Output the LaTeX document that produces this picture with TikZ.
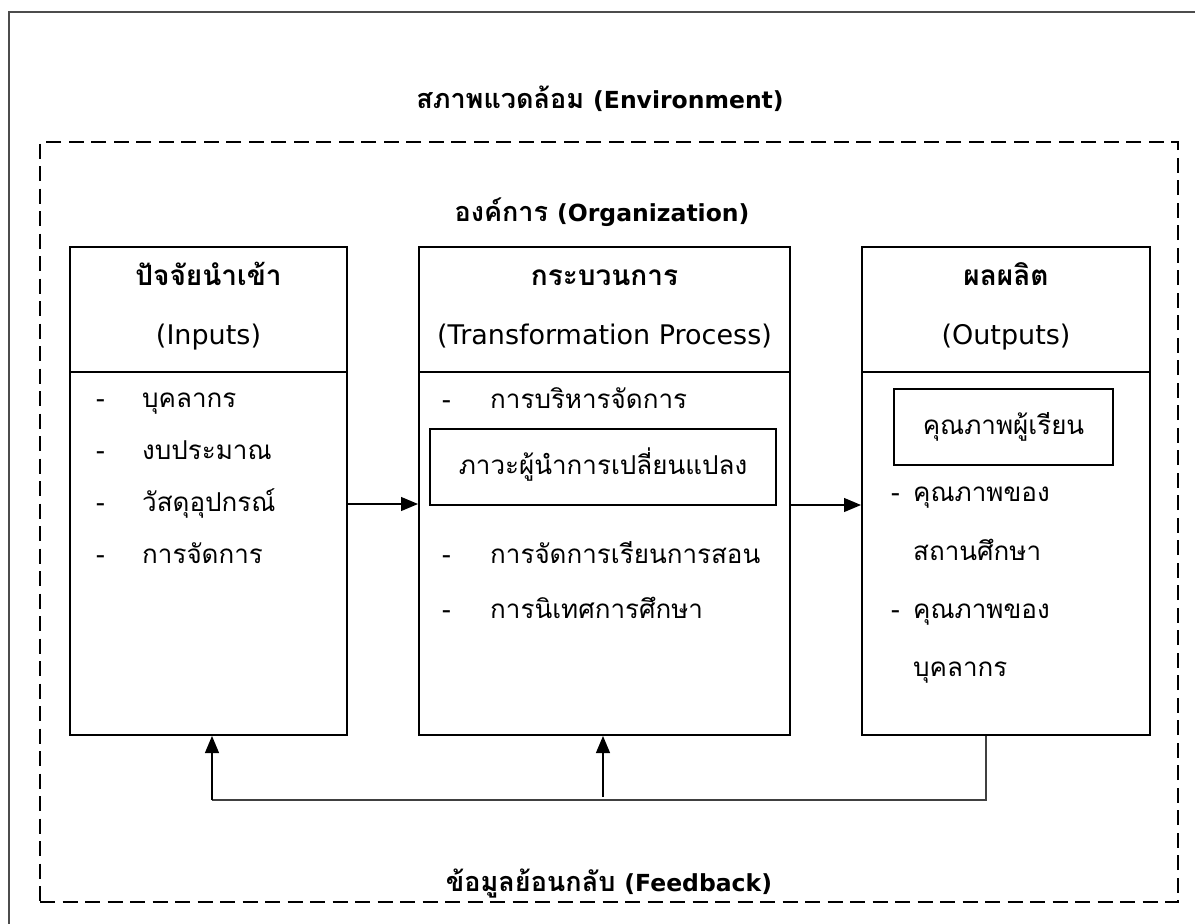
\documentclass[tikz,border=0pt]{standalone}
\usepackage{fontspec}
\setmainfont[Script=Thai]{Loma}
\newfontfamily\latf{DejaVu Sans}
\newcommand{\latr}[1]{{\fontsize{27}{31}\selectfont\mdseries\latf #1}}
\newcommand{\latb}[1]{{\fontsize{23.5}{28}\selectfont\bfseries\latf #1}}
\usetikzlibrary{arrows.meta}
\tikzset{
  bigbox/.style={draw, line width=2pt, inner sep=0pt},
  innerbox/.style={draw, line width=2pt, inner sep=0pt},
  ttl/.style={font=\fontsize{27}{32}\selectfont\bfseries, inner sep=0pt, anchor=mid},
  hd/.style={font=\fontsize{28}{32}\selectfont\bfseries, inner sep=0pt, anchor=mid},
  hde/.style={font=\fontsize{26}{30}\selectfont, inner sep=0pt, anchor=mid},
  item/.style={font=\fontsize{26}{30}\selectfont, inner sep=0pt, anchor=mid west},
  arr/.style={line width=1.2pt, -{Triangle[length=17pt,width=14pt]}},
  fbline/.style={line width=1.3pt, black!75},
  envline/.style={line width=2pt, dash pattern=on 15pt off 7.5pt},
}
\begin{document}
\begin{tikzpicture}[x=1pt,y=-1pt]
\useasboundingbox (0,0) rectangle (1195,924);
% outer frame (only top and left edges visible)
\coordinate (fa) at (9,924);
\coordinate (fb) at (9,12);
\coordinate (fc) at (1195,12);
\draw[line width=2pt, black!70] (fa) -- (fb) -- (fc);
% environment dashed rectangle
\node[envline, draw, minimum width=1138pt, minimum height=760pt, inner sep=0pt] (env) at (609,522) {};
\node[ttl] (envt) at (600,106) {สภาพแวดล้อม \latb{(Environment)}};
\node[ttl] (orgt) at (602,219) {องค์การ \latb{(Organization)}};
\node[ttl, anchor=base] (fbt) at (609,891) {ข้อมูลย้อนกลับ \latb{(Feedback)}};
% three boxes
\node[bigbox, minimum width=277pt, minimum height=488pt] (inp) at (208.5,491) {};
\node[bigbox, minimum width=371pt, minimum height=488pt] (proc) at (604.5,491) {};
\node[bigbox, minimum width=288pt, minimum height=488pt] (outp) at (1006,491) {};
\coordinate (hy) at (0,372);
\draw[line width=2pt] (inp.west |- hy) -- (inp.east |- hy);
\draw[line width=2pt] (proc.west |- hy) -- (proc.east |- hy);
\draw[line width=2pt] (outp.west |- hy) -- (outp.east |- hy);
% headers
\node[hd] (ih1) at (208.5,283) {ปัจจัยนำเข้า};
\node[hde] (ih2) at (208.5,342) {\latr{(Inputs)}};
\node[hd] (ph1) at (604.5,283) {กระบวนการ};
\node[hde] (ph2) at (604.5,342) {\latr{(Transformation Process)}};
\node[hd] (oh1) at (1006,283) {ผลผลิต};
\node[hde] (oh2) at (1006,342) {\latr{(Outputs)}};
% input items
\node[item] (id1) at (96,405) {-};
\node[item] (it1) at (142,405) {บุคลากร};
\node[item] (id2) at (96,457) {-};
\node[item] (it2) at (142,457) {งบประมาณ};
\node[item] (id3) at (96,509) {-};
\node[item] (it3) at (142,509) {วัสดุอุปกรณ์};
\node[item] (id4) at (96,561) {-};
\node[item] (it4) at (142,561) {การจัดการ};
% process items
\node[item] (pd1) at (442,406) {-};
\node[item] (pt1) at (490,406) {การบริหารจัดการ};
\node[innerbox, minimum width=346pt, minimum height=76pt] (lead) at (603,467) {};
\node[hde, yshift=-5pt] (leadt) at (lead.center) {ภาวะผู้นำการเปลี่ยนแปลง};
\node[item] (pd2) at (442,561) {-};
\node[item] (pt2) at (490,561) {การจัดการเรียนการสอน};
\node[item] (pd3) at (442,616) {-};
\node[item] (pt3) at (490,616) {การนิเทศการศึกษา};
% output items
\node[innerbox, minimum width=219pt, minimum height=76pt] (stu) at (1003.5,427) {};
\node[hde, yshift=-5pt] (stut) at (stu.center) {คุณภาพผู้เรียน};
\node[item] (od1) at (891,499) {-};
\node[item] (ot1) at (913,499) {คุณภาพของ};
\node[item] (ot2) at (913,558) {สถานศึกษา};
\node[item] (od2) at (891,616) {-};
\node[item] (ot3) at (913,616) {คุณภาพของ};
\node[item] (ot4) at (913,674) {บุคลากร};
% forward arrows
\coordinate (ay1) at (0,504);
\coordinate (ay2) at (0,505);
\draw[arr] (inp.east |- ay1) -- (proc.west |- ay1);
\draw[arr] (proc.east |- ay2) -- (outp.west |- ay2);
% feedback
\coordinate (fbR) at (986,800);
\coordinate (fbL) at (212,800);
\coordinate (fbM) at (603,797);
\draw[fbline] (outp.south -| fbR) -- (fbR) -- (fbL);
\draw[arr] (fbL) -- (inp.south -| fbL);
\draw[arr] (fbM) -- (proc.south -| fbM);
\end{tikzpicture}
\end{document}
